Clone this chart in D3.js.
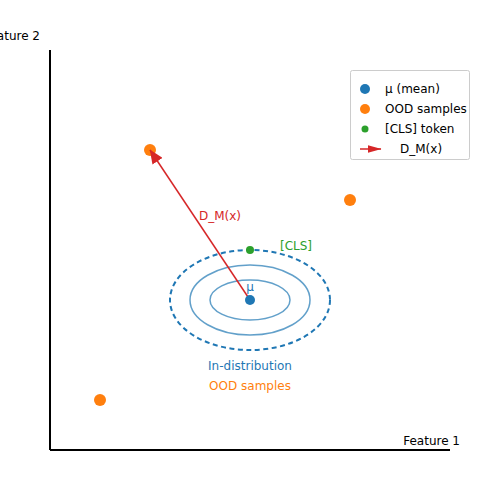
<!DOCTYPE html>
<html>
<head>
<meta charset="utf-8">
<script src="https://cdn.jsdelivr.net/npm/d3@7"></script>
<style>
  body { margin: 0; background: #fff; }
  text { font-family: "DejaVu Sans", sans-serif; font-size: 12px; }
</style>
</head>
<body>
<script>
// Data (feature space units)
var mean = [2, 1.5];
var clsToken = [2, 2];
var oodSamples = [[1, 3], [3, 2.5], [0.5, 0.5]];
var arrowTarget = [1, 3];
// ellipse radii around the mean: [rx, ry, dashed]
var contours = [[0.4, 0.2, false], [0.6, 0.35, false], [0.8, 0.5, true]];
var legendLabels = ["μ (mean)", "OOD samples", "[CLS] token", "D_M(x)"];

var width = 500, height = 500;
var blue = "#1f77b4", orange = "#ff7f0e", green = "#2ca02c", red = "#d62728";

var x = d3.scaleLinear().domain([0, 4]).range([50, 450]);
var y = d3.scaleLinear().domain([0, 4]).range([450, 50]);

var svg = d3.select("body").append("svg")
    .attr("width", width)
    .attr("height", height);

// arrow heads: big one for the plot, small one for the legend
var defs = svg.append("defs");
function head(id, len, wid) {
  defs.append("marker")
      .attr("id", id)
      .attr("viewBox", "0 0 " + len + " " + wid)
      .attr("refX", len - 0.5).attr("refY", wid / 2)
      .attr("markerWidth", len).attr("markerHeight", wid)
      .attr("markerUnits", "userSpaceOnUse")
      .attr("orient", "auto")
    .append("path")
      .attr("d", "M0,0 L" + len + "," + (wid / 2) + " L0," + wid + " z")
      .attr("fill", red);
}
head("head", 14, 12);
head("headSmall", 14, 8);

// Axes (bare lines only)
svg.append("line")
    .attr("x1", x(0)).attr("x2", x(4))
    .attr("y1", y(0)).attr("y2", y(0))
    .attr("stroke", "black").attr("stroke-width", 2);
svg.append("line")
    .attr("x1", x(0)).attr("x2", x(0))
    .attr("y1", y(0)).attr("y2", y(4))
    .attr("stroke", "black").attr("stroke-width", 2);

svg.append("text").attr("x", 460).attr("y", 445)
    .attr("text-anchor", "end").text("Feature 1");
svg.append("text").attr("x", 40).attr("y", 40)
    .attr("text-anchor", "end").text("Feature 2");

// Contours
svg.selectAll(".contour").data(contours).enter().append("ellipse")
    .attr("cx", x(mean[0]))
    .attr("cy", y(mean[1]))
    .attr("rx", function(d) { return x(d[0]) - x(0); })
    .attr("ry", function(d) { return y(0) - y(d[1]); })
    .attr("fill", "none")
    .attr("stroke", blue)
    .attr("stroke-opacity", function(d) { return d[2] ? 1 : 0.7; })
    .attr("stroke-width", function(d) { return d[2] ? 2 : 1.5; })
    .attr("stroke-dasharray", function(d) { return d[2] ? "5,3.5" : null; });

// Points
svg.selectAll(".ood").data(oodSamples).enter().append("circle")
    .attr("cx", function(d) { return x(d[0]); })
    .attr("cy", function(d) { return y(d[1]); })
    .attr("r", 6).attr("fill", orange);

// Arrow from mean to OOD sample (drawn over the OOD dot)
svg.append("line")
    .attr("x1", x(mean[0])).attr("y1", y(mean[1]))
    .attr("x2", x(arrowTarget[0])).attr("y2", y(arrowTarget[1]))
    .attr("stroke", red).attr("stroke-width", 1.5)
    .attr("marker-end", "url(#head)");

svg.append("circle")
    .attr("cx", x(mean[0])).attr("cy", y(mean[1]))
    .attr("r", 5).attr("fill", blue);

svg.append("circle")
    .attr("cx", x(clsToken[0])).attr("cy", y(clsToken[1]))
    .attr("r", 4).attr("fill", green);

// Annotations
svg.append("text").attr("x", x(mean[0])).attr("y", y(mean[1]) - 9)
    .attr("text-anchor", "middle").attr("fill", blue).text("μ");
svg.append("text").attr("x", x(clsToken[0]) + 30).attr("y", y(clsToken[1]) + 0)
    .attr("fill", green).text("[CLS]");
svg.append("text").attr("x", x(1.7)).attr("y", y(2.3))
    .attr("text-anchor", "middle").attr("fill", red).text("D_M(x)");
svg.append("text").attr("x", x(2)).attr("y", y(0.8))
    .attr("text-anchor", "middle").attr("fill", blue).text("In-distribution");
svg.append("text").attr("x", x(2)).attr("y", y(0.6))
    .attr("text-anchor", "middle").attr("fill", orange).text("OOD samples");

// Legend
var legend = svg.append("g").attr("transform", "translate(350,70)");
legend.append("rect")
    .attr("x", 0.5).attr("y", 0.5)
    .attr("width", 119).attr("height", 89)
    .attr("rx", 2)
    .attr("fill", "white").attr("stroke", "#ccc");

var markers = [[blue, 5], [orange, 5], [green, 3.5]];
markers.forEach(function(m, i) {
  legend.append("circle")
      .attr("cx", 15).attr("cy", 19 + i * 20)
      .attr("r", m[1]).attr("fill", m[0]);
});
legend.append("line")
    .attr("x1", 10).attr("x2", 31)
    .attr("y1", 79).attr("y2", 79)
    .attr("stroke", red).attr("stroke-width", 1.5)
    .attr("marker-end", "url(#headSmall)");

legend.selectAll(".lab").data(legendLabels).enter().append("text")
    .attr("x", function(d, i) { return i === 3 ? 50 : 35; })
    .attr("y", function(d, i) { return 23 + i * 20; })
    .text(function(d) { return d; });
</script>
</body>
</html>
